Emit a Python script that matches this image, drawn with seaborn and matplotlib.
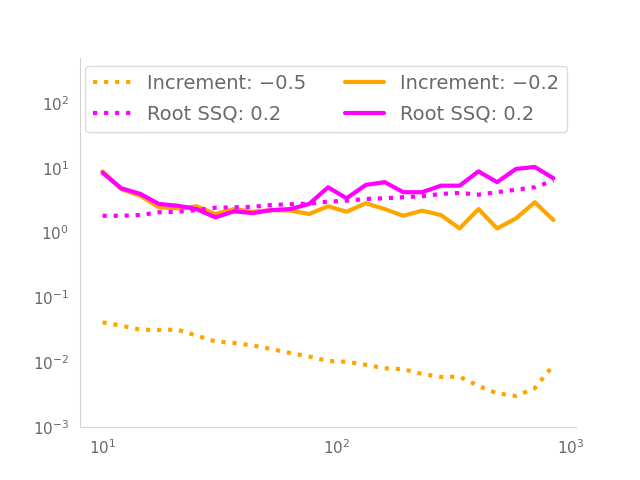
import numpy as np
import pandas as pd
import matplotlib
matplotlib.use("Agg")
import matplotlib.pyplot as plt
import seaborn as sns

# ==============================
# DATA
# ==============================
x_vals = [10, 12, 14.5, 17.4, 20.9, 25.2, 30.3, 36.4, 43.8, 52.7, 63.4, 76.2,
          91.7, 110, 133, 160, 192, 231, 278, 334, 402, 483, 581, 699, 840]

inc_05 = [0.0414, 0.0368, 0.0319, 0.0316, 0.0319, 0.0258, 0.0210, 0.0199,
          0.0182, 0.0160, 0.0139, 0.0123, 0.0105, 0.0102, 0.00915, 0.0081,
          0.00784, 0.00663, 0.00596, 0.00602, 0.00432, 0.00333, 0.00303,
          0.00398, 0.0091]
inc_02 = [8.8, 4.7, 3.7, 2.46, 2.37, 2.55, 1.94, 2.31, 2.1, 2.23, 2.18, 1.94,
          2.55, 2.1, 2.84, 2.31, 1.82, 2.18, 1.87, 1.16, 2.31, 1.16, 1.66,
          2.94, 1.56]
ssq_dot = [1.82, 1.82, 1.87, 2.06, 2.1, 2.23, 2.42, 2.46, 2.5, 2.67, 2.74, 2.8,
           3.0, 3.11, 3.3, 3.39, 3.51, 3.64, 3.95, 4.1, 3.85, 4.2, 4.6, 5.0, 6.35]
ssq_sol = [8.4, 4.85, 3.95, 2.77, 2.6, 2.31, 1.72, 2.13, 2.0, 2.23, 2.31, 2.77,
           5.0, 3.39, 5.45, 6.0, 4.2, 4.2, 5.3, 5.3, 8.8, 6.0, 9.6, 10.3, 6.9]

labels = ["Increment: \u22120.5", "Increment: \u22120.2",
          "Root SSQ: 0.2", "Root SSQ: 0.2"]

# ==============================
# STYLE
# ==============================
sns.set_style("white", {"axes.edgecolor": "lightgray",
                        "xtick.color": "dimgray",
                        "ytick.color": "dimgray",
                        "text.color": "dimgray"})

fig, ax = plt.subplots(figsize=(6.4, 4.8), dpi=100)

series = [(inc_05, "orange", ":", labels[0]),
          (inc_02, "orange", "-", labels[1]),
          (ssq_dot, "magenta", ":", labels[2]),
          (ssq_sol, "magenta", "-", labels[3])]

for yv, col, ls, lab in series:
    df = pd.DataFrame({"x": x_vals, "y": yv})
    sns.lineplot(data=df, x="x", y="y", color=col, linestyle=ls,
                 linewidth=3, label=lab, ax=ax)

ax.set_xscale("log")
ax.set_yscale("log")
ax.set_ylim(1e-3, 5e2)
ax.set_xlabel("")
ax.set_ylabel("")
ax.tick_params(axis="both", which="both", length=0, labelsize=11, pad=8)
ax.minorticks_off()
sns.despine(ax=ax)

# legend: dotted entries in the first column, solid in the second
handles, labs = ax.get_legend_handles_labels()
order = [0, 2, 1, 3]
ax.legend([handles[i] for i in order], [labs[i] for i in order],
          loc="upper left", bbox_to_anchor=(0.01, 0.976), borderaxespad=0,
          ncol=2, fontsize=14, frameon=True, labelspacing=0.6,
          edgecolor="lightgray")

fig.savefig("out.png", dpi=100)
